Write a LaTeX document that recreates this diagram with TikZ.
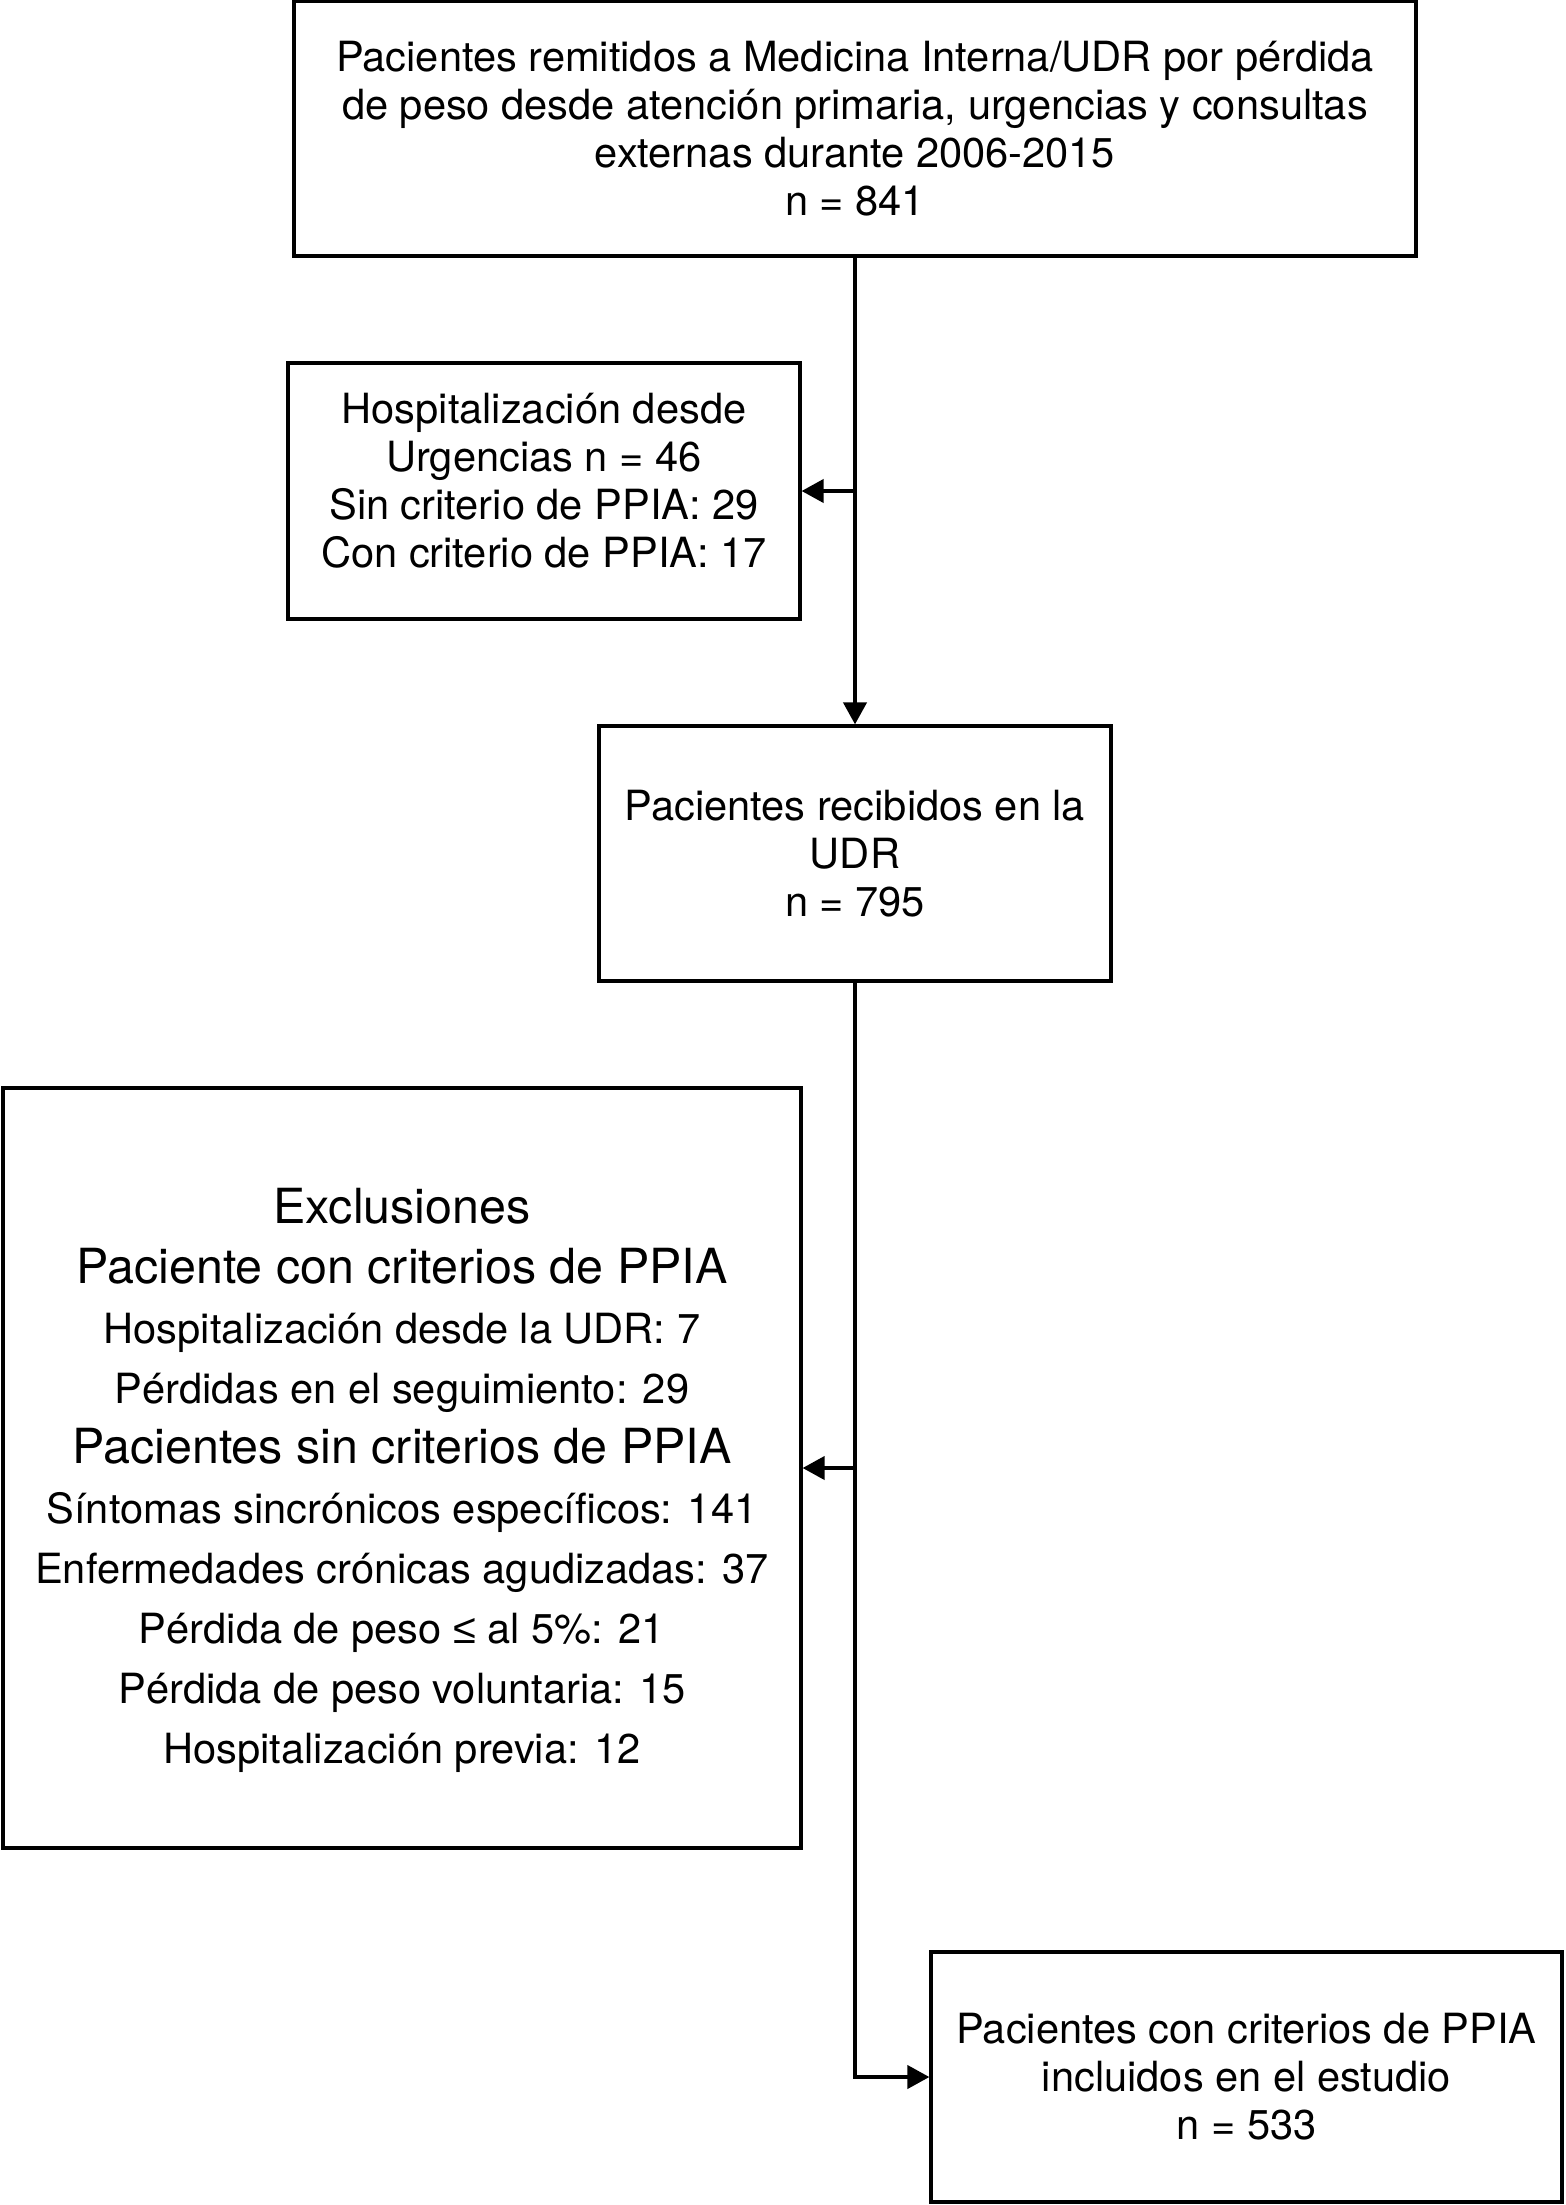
\documentclass[tikz,border=0pt]{standalone}
\usepackage{fontspec}
\setmainfont{TeX Gyre Heros}
\newfontfamily\lesymfont{Liberation Sans}
\usetikzlibrary{arrows.meta}
\tikzset{
  flowbox/.style={draw, line width=1.6pt, align=center, inner sep=0pt,
    font=\fontsize{20.8}{24}\selectfont},
  flowarr/.style={line width=2pt, -{Triangle[length=11pt,width=11.5pt]}}
}
\newcommand{\bigline}[1]{{\fontsize{24.2}{30}\selectfont #1}}
\begin{document}
\begin{tikzpicture}[x=0.5pt, y=-0.5pt]
  \useasboundingbox (0,0) rectangle (1565,2205);
  \node[flowbox, minimum width=561pt, minimum height=127.5pt] (top) at (855,128.5)
    {Pacientes remitidos a Medicina Interna/UDR por pérdida\\
     de peso desde atención primaria, urgencias y consultas\\
     externas durante 2006-2015\\ n = 841};
  \node[flowbox, minimum width=256pt, minimum height=128pt] (hosp) at (544,491)
    {Hospitalización desde\\ Urgencias n = 46\\ Sin criterio de PPIA: 29\\
     Con criterio de PPIA: 17\rule[-11pt]{0pt}{0pt}};
  \node[flowbox, minimum width=256pt, minimum height=127.5pt] (udr) at (855,853.5)
    {Pacientes recibidos en la\\ UDR\\ n = 795};
  \node[flowbox, minimum width=399pt, minimum height=380pt,
        font=\fontsize{20.8}{30}\selectfont] (excl) at (402,1468)
    {\bigline{\rule{0pt}{30pt}Exclusiones}\\
     \bigline{Paciente con criterios de PPIA}\\
     Hospitalización desde la UDR: 7\\
     Pérdidas en el seguimiento: 29\\
     \bigline{Pacientes sin criterios de PPIA}\\
     Síntomas sincrónicos específicos: 141\\
     Enfermedades crónicas agudizadas: 37\\
     Pérdida de peso {\lesymfont ≤} al 5\%: 21\\
     Pérdida de peso voluntaria: 15\\
     Hospitalización previa: 12};
  \node[flowbox, minimum width=315.5pt, minimum height=125pt] (incl) at (1246.5,2077)
    {Pacientes con criterios de PPIA\\ incluidos en el estudio\\ n = 533};

  % connectors
  \draw[flowarr] (top) -- (udr);
  \draw[flowarr] (top.south |- hosp.east) -- (hosp.east);
  \draw[flowarr] (udr.south) |- (incl.west);
  \draw[flowarr] (udr.south |- excl.east) -- (excl.east);
\end{tikzpicture}
\end{document}
